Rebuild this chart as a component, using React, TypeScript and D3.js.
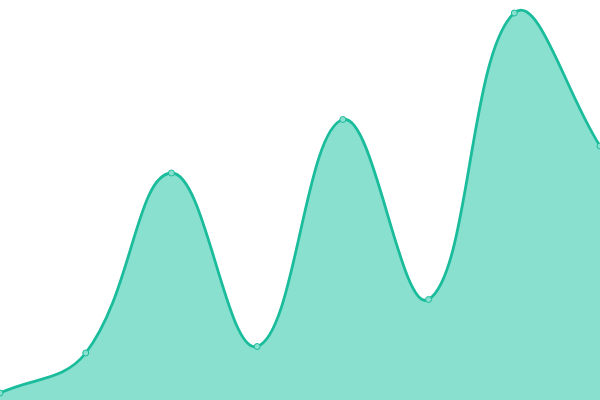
import React from 'react'
import * as d3 from 'd3'

const WIDTH = 600
const HEIGHT = 400

// one value per step (0 = bottom edge)
const steps = [0, 1, 2, 3, 4, 5, 6, 7]
const values = [7, 47, 227, 53.5, 280.5, 100.5, 387, 254]

const LINE = '#1abc9c'
const FILL = '#8ae0cf'
const TENSION = 0.4

type Pt = [number, number]

// spline with distance-weighted control points (tension 0.4), drawn into a d3 path
function splinePath(pts: Pt[], closeTo?: number) {
  const p = d3.path()
  const dist = (a: Pt, b: Pt) => Math.hypot(b[0] - a[0], b[1] - a[1])
  const cps = pts.map((cur, i) => {
    const prev = pts[i - 1] || cur
    const next = pts[i + 1] || cur
    const d01 = dist(prev, cur)
    const d12 = dist(cur, next)
    const sum = d01 + d12 || 1
    const fa = (TENSION * d01) / sum
    const fb = (TENSION * d12) / sum
    return {
      prev: [cur[0] - fa * (next[0] - prev[0]), cur[1] - fa * (next[1] - prev[1])] as Pt,
      next: [cur[0] + fb * (next[0] - prev[0]), cur[1] + fb * (next[1] - prev[1])] as Pt,
    }
  })
  p.moveTo(pts[0][0], pts[0][1])
  for (let i = 1; i < pts.length; i++) {
    const a = cps[i - 1].next
    const b = cps[i].prev
    p.bezierCurveTo(a[0], a[1], b[0], b[1], pts[i][0], pts[i][1])
  }
  if (closeTo !== undefined) {
    p.lineTo(pts[pts.length - 1][0], closeTo)
    p.lineTo(pts[0][0], closeTo)
    p.closePath()
  }
  return p.toString()
}

export default function App() {
  const xScale = d3.scaleLinear().domain([0, steps.length - 1]).range([0, WIDTH])
  const yScale = d3.scaleLinear().domain([0, 400]).range([HEIGHT, 0])

  const pts: Pt[] = steps.map((s, i) => [xScale(s), yScale(values[i])])

  return (
    <svg
      width={WIDTH}
      height={HEIGHT}
      style={{ position: 'absolute', left: 0, top: 0, background: '#fff' }}
    >
      <path d={splinePath(pts, yScale(0))} fill={FILL} stroke="none" />
      <path d={splinePath(pts)} fill="none" stroke={LINE} strokeWidth={2.8} />
      {pts.map((d, i) => (
        <circle
          key={i}
          cx={d[0]}
          cy={d[1]}
          r={3}
          fill={FILL}
          stroke={LINE}
          strokeWidth={1}
        />
      ))}
    </svg>
  )
}
